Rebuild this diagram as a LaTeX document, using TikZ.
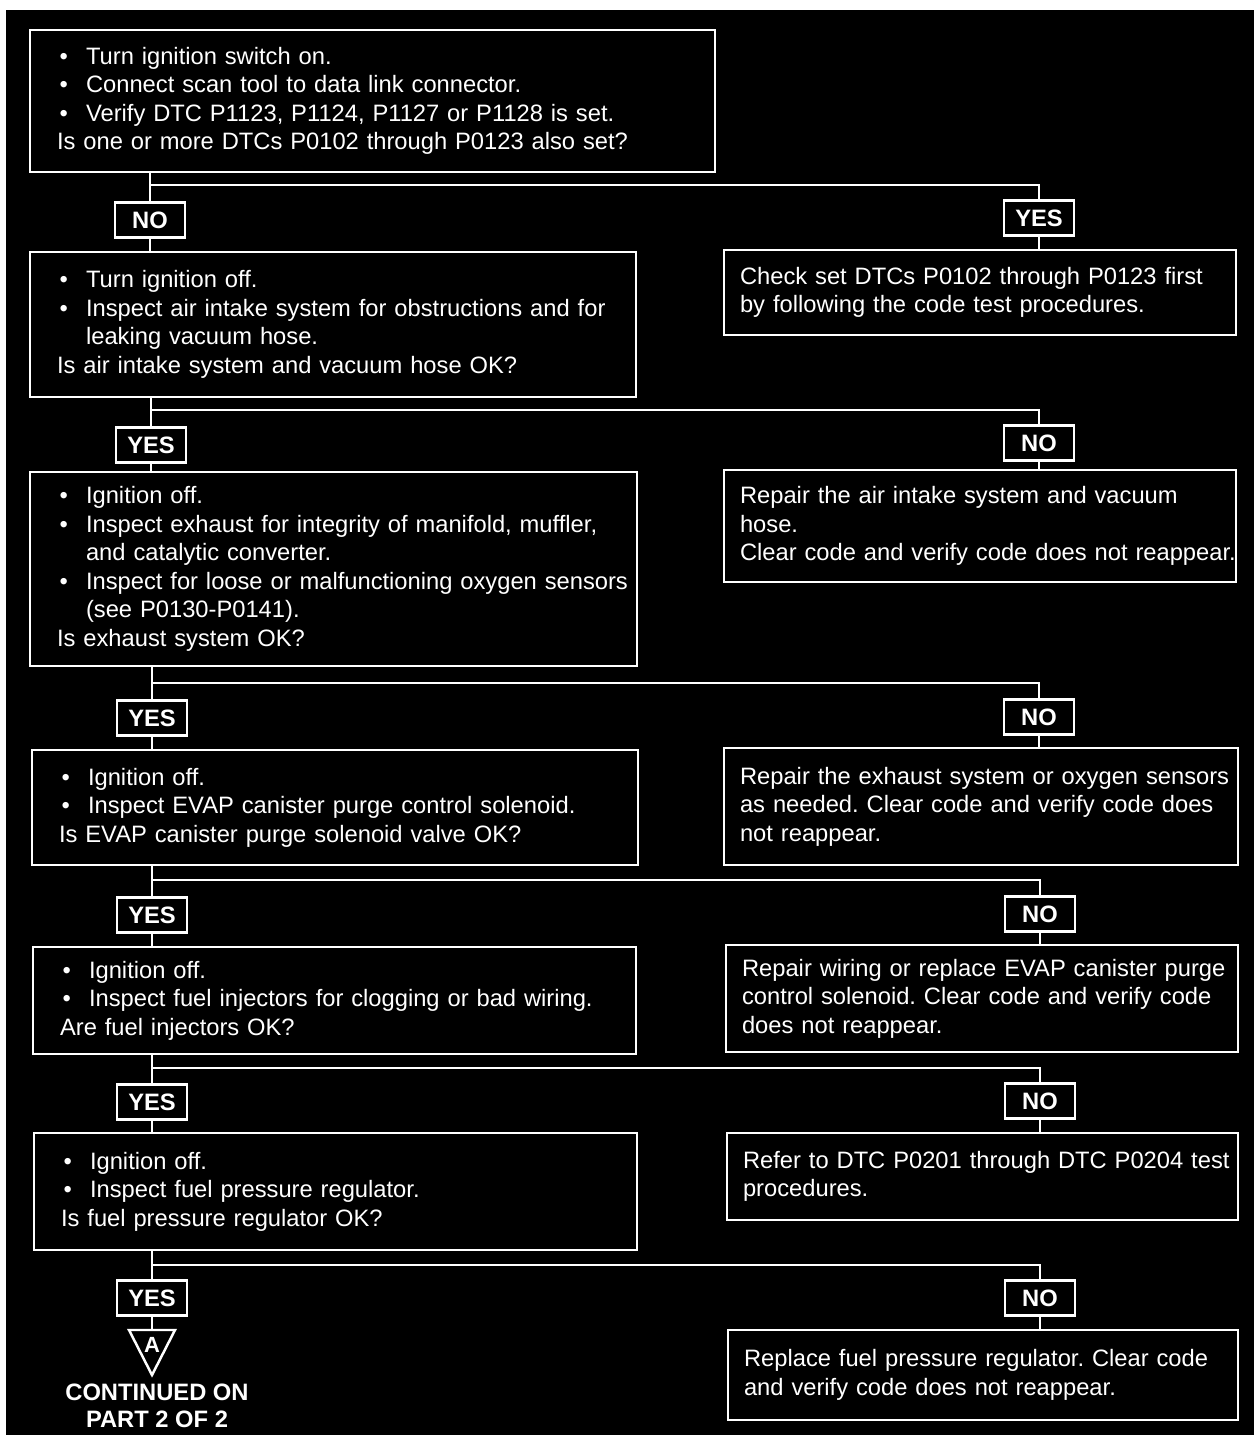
\documentclass[tikz,border=0pt]{standalone}
\usepackage{fontspec}
\setmainfont{Liberation Sans}
\frenchspacing
\newcommand{\blt}[1]{\mbox{\makebox[0.58cm][l]{\hspace{0.05cm}\textbullet}#1}}
\newcommand{\cnt}[1]{\mbox{\hspace*{0.58cm}#1}}
\begin{document}
\begin{tikzpicture}[x=0.02cm, y=-0.02cm, line width=1.4pt,
    every node/.style={text=white, font=\fontsize{13.5pt}{16.2pt}\selectfont},
    qbox/.style={draw=white, align=left, inner xsep=0.54cm, inner ysep=0pt},
    rbox/.style={draw=white, align=left, inner xsep=0.32cm, inner ysep=0pt},
    tag/.style={draw=white, font=\fontsize{13.5pt}{16.2pt}\selectfont\bfseries,
        minimum width=1.4cm, minimum height=0.7cm, inner sep=0pt},
    link/.style={draw=white}]
    % 1. page and black ground
    \useasboundingbox (0,0) rectangle (1254,1435);
    \fill[white] (0,0) rectangle (1254,1435);
    \fill[black] (6,10) rectangle (1254,1435);

    % 2. question boxes (left column)
    \node[qbox, text width=12.62cm, minimum height=2.84cm] (q1) at (372.5,101)
        {\blt{Turn ignition switch on.}\\
         \blt{Connect scan tool to data link connector.}\\
         \blt{Verify DTC P1123, P1124, P1127 or P1128 is set.}\\
         \mbox{Is one or more DTCs P0102 through P0123 also set?}};
    \node[qbox, text width=11.04cm, minimum height=2.9cm] (q2) at (333,324.5)
        {\blt{Turn ignition off.}\\
         \blt{Inspect air intake system for obstructions and for}\\
         \cnt{leaking vacuum hose.}\\
         \mbox{Is air intake system and vacuum hose OK?}};
    \node[qbox, text width=11.06cm, minimum height=3.88cm] (q3) at (333.5,569)
        {\blt{Ignition off.}\\
         \blt{Inspect exhaust for integrity of manifold, muffler,}\\
         \cnt{and catalytic converter.}\\
         \blt{Inspect for loose or malfunctioning oxygen sensors}\\
         \cnt{(see P0130-P0141).}\\
         \mbox{Is exhaust system OK?}};
    \node[qbox, text width=11.04cm, minimum height=2.3cm] (q4) at (335,807.5)
        {\blt{Ignition off.}\\
         \blt{Inspect EVAP canister purge control solenoid.}\\
         \mbox{Is EVAP canister purge solenoid valve OK?}};
    \node[qbox, text width=10.98cm, minimum height=2.14cm] (q5) at (334.5,1000.5)
        {\blt{Ignition off.}\\
         \blt{Inspect fuel injectors for clogging or bad wiring.}\\
         \mbox{Are fuel injectors OK?}};
    \node[qbox, text width=10.98cm, minimum height=2.34cm] (q6) at (335.5,1191.5)
        {\blt{Ignition off.}\\
         \blt{Inspect fuel pressure regulator.}\\
         \mbox{Is fuel pressure regulator OK?}};

    % 3. repair boxes (right column)
    \node[rbox, text width=9.6cm, minimum height=1.7cm] (r1) at (980,292.5)
        {\mbox{Check set DTCs P0102 through P0123 first}\\
         \mbox{by following the code test procedures.}};
    \node[rbox, text width=9.6cm, minimum height=2.24cm] (r2) at (980,526)
        {\mbox{Repair the air intake system and vacuum}\\
         \mbox{hose.}\\
         \mbox{Clear code and verify code does not reappear.}};
    \node[rbox, text width=9.64cm, minimum height=2.34cm] (r3) at (981,806.5)
        {\mbox{Repair the exhaust system or oxygen sensors}\\
         \mbox{as needed. Clear code and verify code does}\\
         \mbox{not reappear.}};
    \node[rbox, text width=9.6cm, minimum height=2.14cm] (r4) at (982,998.5)
        {\mbox{Repair wiring or replace EVAP canister purge}\\
         \mbox{control solenoid. Clear code and verify code}\\
         \mbox{does not reappear.}};
    \node[rbox, text width=9.58cm, minimum height=1.74cm] (r5) at (982.5,1176.5)
        {\mbox{Refer to DTC P0201 through DTC P0204 test}\\
         \mbox{procedures.}};
    \node[rbox, text width=9.56cm, minimum height=1.8cm] (r6) at (983,1375)
        {\mbox{Replace fuel pressure regulator. Clear code}\\
         \mbox{and verify code does not reappear.}};

    % 4. answer tags
    \node[tag] (no1)  at (150,220)  {NO};
    \node[tag] (yes1) at (1039,218) {YES};
    \node[tag] (yes2) at (151,445)  {YES};
    \node[tag] (no2)  at (1039,443) {NO};
    \node[tag] (yes3) at (152,718)  {YES};
    \node[tag] (no3)  at (1039,717) {NO};
    \node[tag] (yes4) at (152,915)  {YES};
    \node[tag] (no4)  at (1040,914) {NO};
    \node[tag] (yes5) at (152,1102) {YES};
    \node[tag] (no5)  at (1040,1101) {NO};
    \node[tag] (yes6) at (152,1298) {YES};
    \node[tag] (no6)  at (1040,1298) {NO};

    % 5. branch points
    \coordinate (s1) at (150,185);
    \coordinate (s2) at (151,410);
    \coordinate (s3) at (152,683);
    \coordinate (s4) at (152,880);
    \coordinate (s5) at (152,1068);
    \coordinate (s6) at (152,1265);
    \coordinate (tAtop) at (152,1330);

    % 6. connectors
    \draw[link] (q1.south -| no1) -- (no1) -- (q2.north -| no1);
    \draw[link] (s1) -| (yes1) -- (r1.north -| yes1);
    \draw[link] (q2.south -| yes2) -- (yes2) -- (q3.north -| yes2);
    \draw[link] (s2) -| (no2) -- (r2.north -| no2);
    \draw[link] (q3.south -| yes3) -- (yes3) -- (q4.north -| yes3);
    \draw[link] (s3) -| (no3) -- (r3.north -| no3);
    \draw[link] (q4.south -| yes4) -- (yes4) -- (q5.north -| yes4);
    \draw[link] (s4) -| (no4) -- (r4.north -| no4);
    \draw[link] (q5.south -| yes5) -- (yes5) -- (q6.north -| yes5);
    \draw[link] (s5) -| (no5) -- (r5.north -| no5);
    \draw[link] (q6.south -| yes6) -- (yes6) -- (tAtop);
    \draw[link] (s6) -| (no6) -- (r6.north -| no6);

    % 7. off-page marker A
    \draw[white] (129,1330) -- (175,1330) -- (152,1375) -- cycle;
    \node[font=\fontsize{12.5pt}{14pt}\selectfont\bfseries] (tA) at (152,1345) {A};
    \node[font=\fontsize{13.5pt}{15.3pt}\selectfont\bfseries, align=center] (cont) at (157,1406)
        {CONTINUED ON\\PART 2 OF 2};
\end{tikzpicture}
\end{document}
